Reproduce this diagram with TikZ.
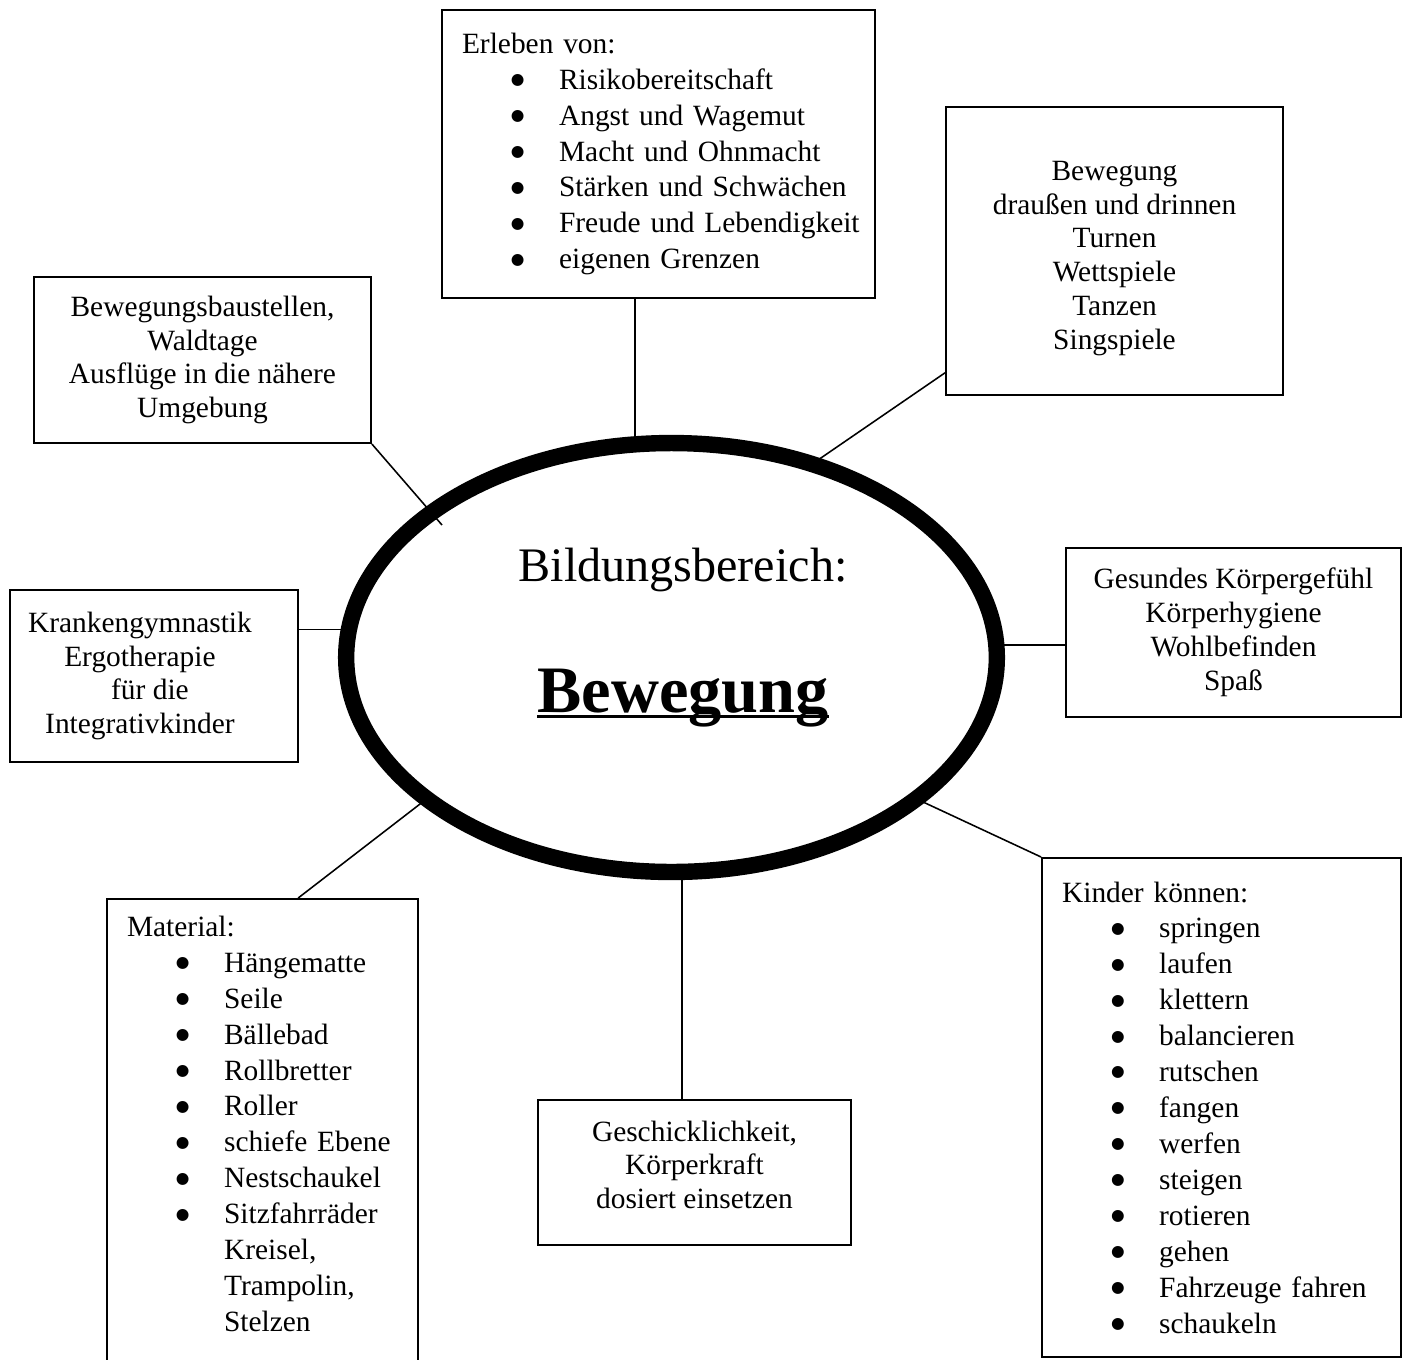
\documentclass[tikz,border=0pt]{standalone}
\usepackage{fontspec}
\setmainfont{Liberation Serif}
\newfontfamily\dotFont{DejaVu Sans}
\usepackage{tikz}
\usetikzlibrary{shapes.geometric, calc}

\newcommand{\bulletItem}[1]{\mbox{\hspace*{18.8pt}\makebox[18.5pt][l]{\raisebox{1.8pt}{\fontsize{6pt}{6pt}\dotFont ●}}#1}}
\newcommand{\contItem}[1]{\mbox{\hspace*{37.3pt}#1}}
\newcommand{\baseUnderline}[1]{\setbox0\hbox{#1}\rlap{\rule[-2.3pt]{\wd0}{1.1pt}}\box0}
\newcommand{\padRight}[2][10.8pt]{\mbox{#2\hspace{#1}}}

\begin{document}
\begin{tikzpicture}[
        x=0.0135cm, y=-0.0135cm,
        textNode/.style={
            draw,
            line width=0.8pt,
            align=center,
            inner sep=0pt,
            font=\fontsize{11.3pt}{13pt}\selectfont
        },
        listNode/.style={
            draw,
            line width=0.8pt,
            align=left,
            inner xsep=7.68pt,
            inner ysep=0pt,
            font=\fontsize{11.3pt}{13.8pt}\selectfont
        },
        hubNode/.style={
            draw,
            ellipse,
            line width=6.3pt,
            inner sep=0pt,
            outer sep=0pt,
            minimum width=250pt,
            minimum height=164.8pt
        },
        connLine/.style={
            line width=0.6pt
        }
    ]
    \clip (0, 0) rectangle (1410, 1359);

    % Ellipse Center
    \node[hubNode] (kern) at (671.5, 657.5) {};
    \node[anchor=base, font=\fontsize{18.5pt}{22pt}\selectfont] (titel) at (683, 581) {Bildungsbereich:};
    \node[anchor=base, font=\fontsize{25.5pt}{30pt}\selectfont\bfseries] (thema) at (683, 712) {\baseUnderline{Bewegung}};

    % Boxes Top
    \node[listNode, text width=151pt, minimum height=110.6pt] (erleben) at (658.5, 154) {Erleben von:\\
        \bulletItem{Risikobereitschaft}\\ \bulletItem{Angst und Wagemut}\\ \bulletItem{Macht und Ohnmacht}\\
        \bulletItem{Stärken und Schwächen}\\ \bulletItem{Freude und Lebendigkeit}\\ \bulletItem{eigenen Grenzen}};
    \node[textNode, minimum width=129.4pt, minimum height=110.6pt] (drinnen) at (1114.5, 251) {\rule{0pt}{13.1pt}Bewegung\\ draußen und drinnen\\ Turnen\\ Wettspiele\\ Tanzen\\ Singspiele};
    \node[textNode, minimum width=129.4pt, minimum height=63.8pt] (baustellen) at (202.5, 360) {Bewegungsbaustellen,\\ Waldtage\\ Ausflüge in die nähere\\ Umgebung};

    % Boxes Middle
    \node[textNode, minimum width=110.6pt, minimum height=66.1pt] (therapie) at (154, 676) {\padRight{Krankengymnastik}\\ \padRight{Ergotherapie}\\ \padRight[3.1pt]{für die}\\ \padRight{Integrativkinder}};
    \node[textNode, minimum width=128.7pt, minimum height=64.9pt] (wohl) at (1233.5, 632.5) {Gesundes Körpergefühl\\ Körperhygiene\\ Wohlbefinden\\ Spaß};

    % Boxes Bottom
    \node[listNode, text width=104.1pt, inner ysep=6.5pt, anchor=north] (material) at (262.5, 898) {Material:\\
        \bulletItem{Hängematte}\\ \bulletItem{Seile}\\ \bulletItem{Bällebad}\\ \bulletItem{Rollbretter}\\
        \bulletItem{Roller}\\ \bulletItem{schiefe Ebene}\\ \bulletItem{Nestschaukel}\\ \bulletItem{Sitzfahrräder}\\
        \contItem{Kreisel,}\\ \contItem{Trampolin,}\\ \contItem{Stelzen}\rule[-30pt]{0pt}{1pt}};
    \node[textNode, minimum width=120.2pt, minimum height=55.7pt, text depth=6pt] (kraft) at (694.5, 1172.5) {Geschicklichkeit,\\ Körperkraft\\ dosiert einsetzen};
    \node[listNode, text width=122.5pt, minimum height=191.7pt] (koennen) at (1221.5, 1107.5) {Kinder können:\\
        \bulletItem{springen}\\ \bulletItem{laufen}\\ \bulletItem{klettern}\\ \bulletItem{balancieren}\\
        \bulletItem{rutschen}\\ \bulletItem{fangen}\\ \bulletItem{werfen}\\ \bulletItem{steigen}\\
        \bulletItem{rotieren}\\ \bulletItem{gehen}\\ \bulletItem{Fahrzeuge fahren}\\ \bulletItem{schaukeln}};

    % Connections
    \coordinate (erlebenLink) at ($(erleben.south west)!0.446!(erleben.south east)$);
    \draw[connLine] (erlebenLink) -- (erlebenLink |- kern.north);
    \draw[connLine] ($(drinnen.south west)!0.08!(drinnen.north west)$) -- (kern.54);
    \coordinate (stub) at (442, 525);
    \draw[connLine] (baustellen.south east) -- (stub);
    \coordinate (therapieLink) at ($(therapie.north east)!0.233!(therapie.south east)$);
    \draw[connLine] (therapieLink) -- (therapieLink -| kern.west);
    \coordinate (wohlLink) at ($(wohl.north west)!0.574!(wohl.south west)$);
    \draw[connLine] (wohlLink) -- (wohlLink -| kern.east);
    \draw[connLine] (koennen.north west) -- (kern.330);
    \draw[connLine] ($(material.north west)!0.614!(material.north east)$) -- (kern.210);
    \coordinate (kraftLink) at ($(kraft.north west)!0.46!(kraft.north east)$);
    \draw[connLine] (kraftLink) -- (kraftLink |- kern.south);
\end{tikzpicture}
\end{document}
